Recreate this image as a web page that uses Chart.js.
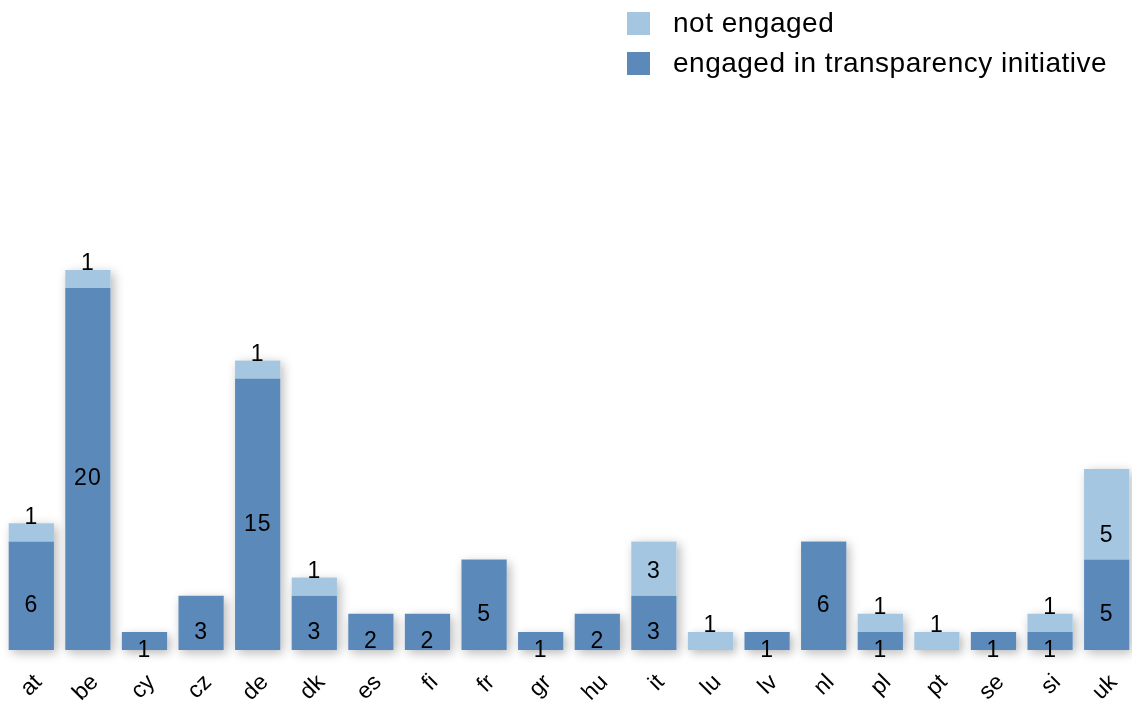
<!DOCTYPE html>
<html>
<head>
<meta charset="utf-8">
<script src="https://cdn.jsdelivr.net/npm/chart.js@4/dist/chart.umd.min.js"></script>
<style>
  html, body { margin: 0; padding: 0; background: #fff; overflow: hidden; }
  #wrap { width: 1135px; height: 702px; position: relative; }
</style>
</head>
<body>
<div id="wrap"><canvas id="chart"></canvas></div>
<script>
const countries = ['at', 'be', 'cy', 'cz', 'de', 'dk', 'es', 'fi', 'fr', 'gr', 'hu', 'it', 'lu', 'lv', 'nl', 'pl', 'pt', 'se', 'si', 'uk'];
const engaged = [6, 20, 1, 3, 15, 3, 2, 2, 5, 1, 2, 3, 0, 1, 6, 1, 0, 1, 1, 5];
const notEngaged = [1, 1, 0, 0, 1, 1, 0, 0, 0, 0, 0, 3, 1, 0, 0, 1, 1, 0, 1, 5];

const FONT = '"Liberation Sans", Arial, Helvetica, sans-serif';
const DARK = '#5b89ba';
const LIGHT = '#a4c6e1';

// soft drop shadow behind each whole stacked bar
const barShadow = {
  id: 'barShadow',
  beforeDatasetsDraw(chart) {
    const ctx = chart.ctx;
    const m0 = chart.getDatasetMeta(0).data;
    const m1 = chart.getDatasetMeta(1).data;
    ctx.save();
    ctx.shadowColor = 'rgba(0,0,0,0.28)';
    ctx.shadowBlur = 10;
    ctx.shadowOffsetX = 3;
    ctx.shadowOffsetY = 3;
    ctx.fillStyle = '#ffffff';
    m0.forEach((el, i) => {
      const top = Math.min(el.y, m1[i].y);
      const w = el.width;
      ctx.fillRect(el.x - w / 2, top, w, el.base - top);
    });
    ctx.restore();
  }
};

// value labels: engaged a bit below centre, not engaged just above its base
const valueLabels = {
  id: 'valueLabels',
  afterDatasetsDraw(chart) {
    const ctx = chart.ctx;
    ctx.save();
    ctx.font = '23px ' + FONT;
    ctx.letterSpacing = '1px';
    ctx.fillStyle = '#000';
    ctx.textAlign = 'center';
    ctx.textBaseline = 'middle';
    chart.data.datasets.forEach((ds, di) => {
      chart.getDatasetMeta(di).data.forEach((el, i) => {
        const v = ds.data[i];
        if (!v) return;
        const y = di === 0 ? (el.y + el.base) / 2 + 10 : el.base - 24;
        ctx.fillText(String(v), el.x, y);
      });
    });
    ctx.restore();
  }
};

// vertical legend in the top right
const sideLegend = {
  id: 'sideLegend',
  afterDraw(chart) {
    const ctx = chart.ctx;
    const items = [chart.data.datasets[1], chart.data.datasets[0]];
    ctx.save();
    ctx.font = '28px ' + FONT;
    ctx.letterSpacing = '0.5px';
    ctx.textBaseline = 'middle';
    ctx.textAlign = 'left';
    items.forEach((ds, k) => {
      const y = 12 + k * 40;
      ctx.fillStyle = ds.backgroundColor;
      ctx.fillRect(627, y, 23, 23);
      ctx.fillStyle = '#000';
      ctx.fillText(ds.label, 673, y + 12);
    });
    ctx.restore();
  }
};

new Chart(document.getElementById('chart'), {
  type: 'bar',
  data: {
    labels: countries,
    datasets: [
      { label: 'engaged in transparency initiative', data: engaged, backgroundColor: DARK },
      { label: 'not engaged', data: notEngaged, backgroundColor: LIGHT }
    ]
  },
  options: {
    responsive: true,
    maintainAspectRatio: false,
    animation: false,
    layout: { padding: { left: 3, right: 0, top: 107, bottom: 0 } },
    datasets: { bar: { categoryPercentage: 1, barPercentage: 0.8 } },
    plugins: { legend: { display: false }, tooltip: { enabled: false } },
    scales: {
      x: {
        stacked: true,
        grid: { display: false, drawTicks: false },
        border: { display: false },
        afterFit(scale) {
          scale.height = 52;
          scale.paddingLeft = 0;
          scale.paddingRight = 0;
        },
        ticks: {
          minRotation: 45, maxRotation: 45, autoSkip: false,
          labelOffset: 7, padding: 19,
          color: '#000', font: { family: FONT, size: 23 }
        }
      },
      y: {
        stacked: true, display: false, min: 0, max: 30
      }
    }
  },
  plugins: [barShadow, valueLabels, sideLegend]
});
</script>
</body>
</html>
